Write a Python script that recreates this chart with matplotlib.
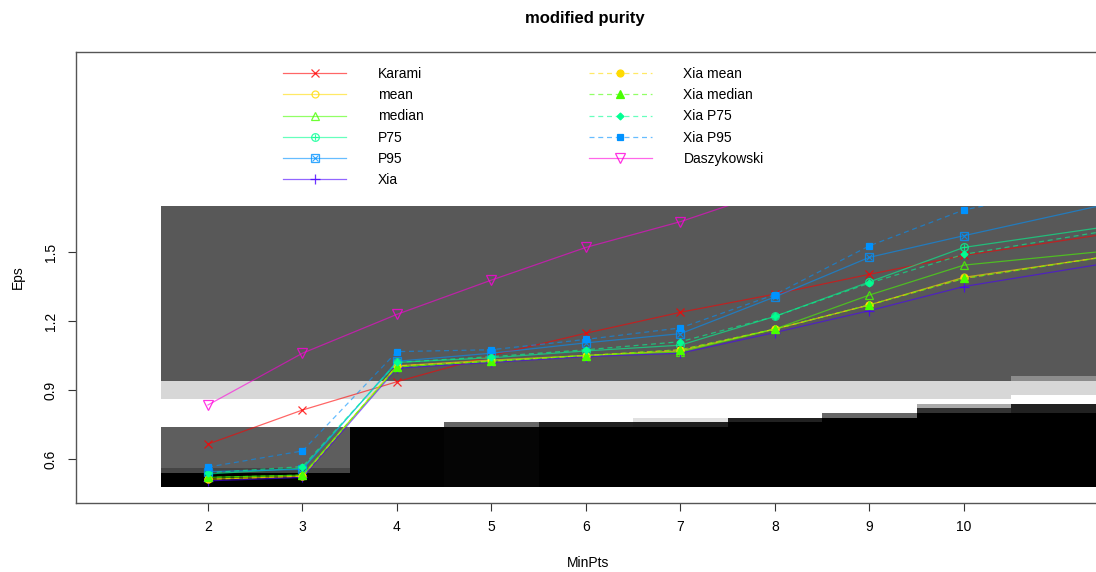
import numpy as np
import matplotlib
matplotlib.use("Agg")
import matplotlib.pyplot as plt
from matplotlib.colors import to_rgba
from matplotlib.patches import Rectangle

plt.rcParams['font.family'] = ['Liberation Sans', 'DejaVu Sans']
plt.rcParams['font.size'] = 10

# MinPts values and the Eps chosen by each method
# (the last point lies past the right edge of the picture)
minpts = [2, 3, 4, 5, 6, 7, 8, 9, 10, 12]
karami = [0.665, 0.813, 0.936, 1.05, 1.147, 1.238, 1.317, 1.403, 1.485, 1.609]
mean = [0.512, 0.525, 1.005, 1.03, 1.05, 1.07, 1.165, 1.27, 1.39, 1.509]
median = [0.52, 0.53, 1.0, 1.025, 1.05, 1.065, 1.165, 1.313, 1.443, 1.524]
p75 = [0.535, 0.56, 1.02, 1.04, 1.07, 1.095, 1.22, 1.37, 1.52, 1.639]
p95 = [0.545, 0.555, 1.025, 1.06, 1.105, 1.145, 1.305, 1.477, 1.571, 1.752]
xia = [0.505, 0.52, 0.995, 1.02, 1.045, 1.06, 1.15, 1.245, 1.35, 1.484]
xia_mean = [0.512, 0.525, 1.005, 1.025, 1.05, 1.075, 1.165, 1.27, 1.385, 1.512]
xia_median = [0.52, 0.53, 1.0, 1.025, 1.05, 1.075, 1.165, 1.27, 1.385, 1.51]
xia_p75 = [0.54, 0.567, 1.02, 1.045, 1.075, 1.11, 1.22, 1.365, 1.49, 1.625]
xia_p95 = [0.565, 0.635, 1.067, 1.075, 1.12, 1.17, 1.315, 1.527, 1.683, 1.85]
daszykowski = [0.835, 1.06, 1.229, 1.378, 1.52, 1.632, 1.77, 1.86, 1.94, 2.1]

# background image: modified purity (gray level) per MinPts column,
# given as the lower Eps edge of each band and its gray level
heat_minpts = [2, 3, 4, 5, 6, 7, 8, 9, 10, 11]
heat_top = 1.70
heat_step = 0.02
heat_edges = [
    [0.48, 0.54, 0.56, 0.74, 0.86, 0.94],
    [0.48, 0.54, 0.56, 0.74, 0.86, 0.94],
    [0.48, 0.74, 0.86, 0.94],
    [0.48, 0.74, 0.76, 0.86, 0.94],
    [0.48, 0.74, 0.76, 0.86, 0.94],
    [0.48, 0.74, 0.76, 0.78, 0.86, 0.94],
    [0.48, 0.76, 0.78, 0.86, 0.94],
    [0.48, 0.78, 0.80, 0.86, 0.94],
    [0.48, 0.80, 0.82, 0.84, 0.86, 0.94],
    [0.48, 0.80, 0.84, 0.88, 0.94, 0.96],
]
heat_grays = [
    [0.0, 0.27, 0.37, 1.0, 0.84, 0.345],
    [0.0, 0.27, 0.37, 1.0, 0.84, 0.345],
    [0.01, 1.0, 0.84, 0.345],
    [0.02, 0.40, 1.0, 0.84, 0.345],
    [0.0, 0.13, 1.0, 0.84, 0.345],
    [0.0, 0.12, 0.88, 1.0, 0.84, 0.345],
    [0.0, 0.13, 1.0, 0.84, 0.345],
    [0.0, 0.40, 1.0, 0.84, 0.345],
    [0.0, 0.20, 0.67, 1.0, 0.84, 0.345],
    [0.0, 0.13, 1.0, 0.84, 0.55, 0.345],
]

xticks = [2, 3, 4, 5, 6, 7, 8, 9, 10]
yticks = [0.6, 0.9, 1.2, 1.5]

# rainbow(7) as in R
RED, GOLD, GREEN, SPRING, AZURE, VIOLET, MAGENTA = (
    '#FF0000', '#FFDB00', '#49FF00', '#00FF92', '#0092FF', '#4900FF', '#FF00DB')
LINE_ALPHA = 0.6

# (label, values, color, marker, size, filled, dashed, overlay marker)
series = [
    ('Karami', karami, RED, 'x', 6, False, False, None),
    ('mean', mean, GOLD, 'o', 5, False, False, None),
    ('median', median, GREEN, '^', 6, False, False, None),
    ('P75', p75, SPRING, 'o', 5.5, False, False, '+'),
    ('P95', p95, AZURE, 's', 5.5, False, False, 'x'),
    ('Xia', xia, VIOLET, '+', 7, False, False, None),
    ('Xia mean', xia_mean, GOLD, 'o', 5, True, True, None),
    ('Xia median', xia_median, GREEN, '^', 5.5, True, True, None),
    ('Xia P75', xia_p75, SPRING, 'D', 3.5, True, True, None),
    ('Xia P95', xia_p95, AZURE, 's', 5, True, True, None),
    ('Daszykowski', daszykowski, MAGENTA, 'v', 7, False, False, None),
]


def build_heat():
    centers = np.arange(heat_edges[0][0] + heat_step / 2, heat_top, heat_step)
    z = np.zeros((len(centers), len(heat_minpts)))
    for j in range(len(heat_minpts)):
        idx = np.searchsorted(heat_edges[j], centers + 1e-9, side='right') - 1
        z[:, j] = np.array(heat_grays[j])[idx]
    y_edges = np.append(centers - heat_step / 2, heat_top)
    x_edges = np.append(np.array(heat_minpts) - 0.5, heat_minpts[-1] + 0.5)
    return x_edges, y_edges, z


W, H = 1096, 572
fig = plt.figure(figsize=(W / 100, H / 100), dpi=100)
ax = fig.add_axes([76 / W, 69 / H, (1100 - 76) / W, (503 - 52) / H])

x_edges, y_edges, z = build_heat()
ax.pcolormesh(x_edges, y_edges, z, cmap='gray', vmin=0, vmax=1,
              shading='flat', antialiased=False, zorder=1)

# the lines are only drawn inside the image's Eps range
clip = Rectangle((0, y_edges[0]), 20, heat_top - y_edges[0], transform=ax.transData)

handles = []
for label, vals, col, mk, ms, filled, dashed, extra in series:
    line_col = to_rgba(col, LINE_ALPHA)
    if filled:
        mfc, mec = col, col
    else:
        mfc, mec = 'none', to_rgba(col, 0.8)
    ln, = ax.plot(minpts, vals, color=line_col, lw=0.9,
                  linestyle=(0, (4, 3)) if dashed else '-',
                  marker=mk, ms=ms, mfc=mfc, mec=mec, mew=0.9, zorder=3)
    ln.set_clip_path(clip)
    h = ln
    if extra is not None:
        ov, = ax.plot(minpts, vals, linestyle='none', marker=extra,
                      ms=ms * 0.75, mec=mec, mew=0.8, zorder=3)
        ov.set_clip_path(clip)
        h = (ln, ov)
    handles.append(h)

ax.set_xlim(0.603, 11.44)
ax.set_ylim(0.4087, 2.3696)

ax.set_xticks(xticks)
ax.set_xticklabels([str(t) for t in xticks])
ax.set_yticks(yticks)
ax.set_yticklabels([str(t) for t in yticks])
ax.tick_params(axis='both', direction='out', length=6, width=0.8, color='#333333')
ax.tick_params(axis='x', pad=6)
ax.tick_params(axis='y', pad=7)
for t in ax.get_yticklabels():
    t.set_rotation(90)
    t.set_va('center')

for s in ax.spines.values():
    s.set_color('#555555')
    s.set_linewidth(1.0)

ax.set_xlabel('MinPts', labelpad=16)
ax.set_ylabel('Eps', labelpad=14)
fig.text(585 / W, 1 - 19 / H, 'modified purity', ha='center', va='center',
         fontsize=12, fontweight='bold')

ax.legend(handles, [s[0] for s in series], ncol=2, loc='upper left',
          bbox_to_anchor=(283 / W, 1 - 67 / H), bbox_transform=fig.transFigure,
          frameon=False, borderpad=0, borderaxespad=0, handlelength=4.57,
          handletextpad=2.25, columnspacing=11.9, labelspacing=0.52)

fig.savefig('out.png', dpi=100)
